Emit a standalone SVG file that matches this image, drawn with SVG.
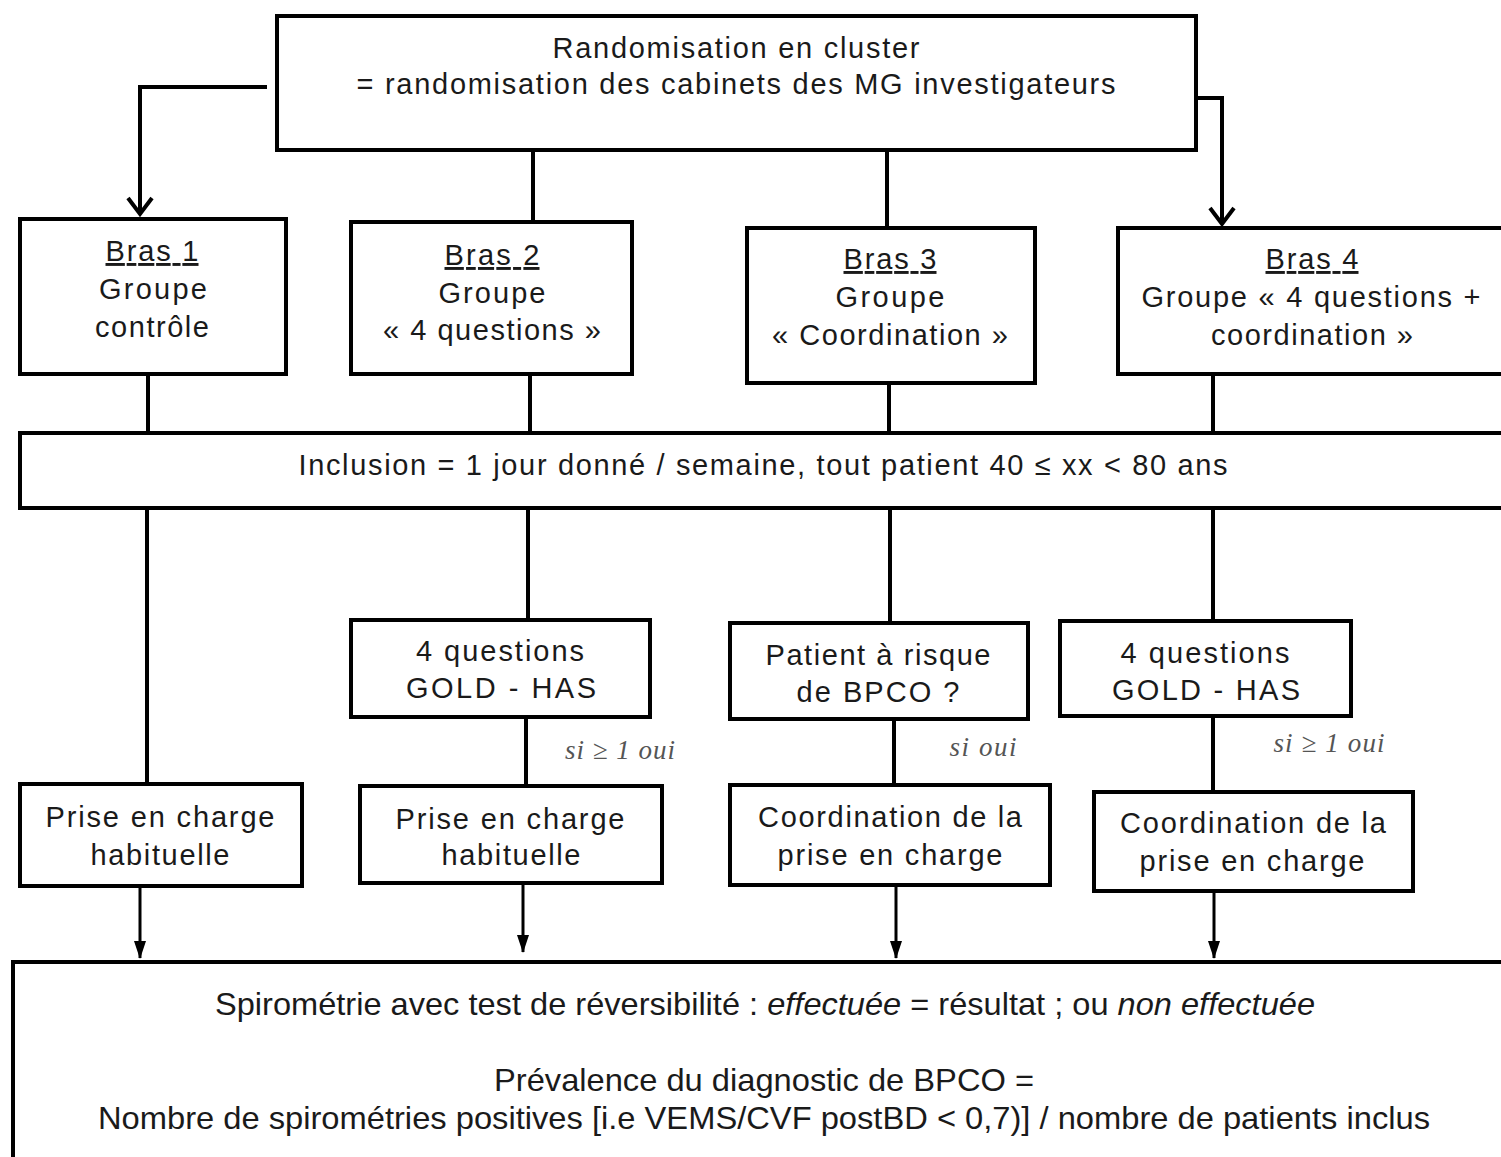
<svg xmlns="http://www.w3.org/2000/svg" width="1501" height="1157" viewBox="0 0 1501 1157">
<style>
.box{fill:#fff;stroke:#000;stroke-width:4}
.t{font-family:"Liberation Sans",Arial,sans-serif;font-size:29px;fill:#1a1a1a;text-anchor:middle}
.b{font-size:32px}
.u{text-decoration:underline}
.c{fill:none;stroke:#000;stroke-width:4}
.c3{fill:none;stroke:#000;stroke-width:3}
.chev{fill:none;stroke:#000;stroke-width:4;stroke-linejoin:miter}
.lab{font-family:"Liberation Serif","Times New Roman",serif;font-style:italic;font-size:27px;fill:#555;text-anchor:middle}
.i{font-style:italic}
</style>
<defs>
<marker id="tri" markerWidth="12" markerHeight="18" refX="6" refY="17" markerUnits="userSpaceOnUse" viewBox="0 0 12 18">
<path d="M0,0 L12,0 L6,18 Z" fill="#000"/>
</marker>
</defs>
<rect width="1501" height="1157" fill="#fff"/>
<g id="connectors">
<path class="c" d="M267,87 H140 V214"/>
<path class="chev" d="M128,198 L140,214 L152,198"/>
<path class="c" d="M1196,98 H1222 V224"/>
<path class="chev" d="M1210,208 L1222,224 L1234,208"/>
<path class="c" d="M533,150 V222"/>
<path class="c" d="M887,150 V228"/>
<path class="c" d="M148,374 V433"/>
<path class="c" d="M530,374 V433"/>
<path class="c" d="M889,383 V433"/>
<path class="c" d="M1213,374 V433"/>
<path class="c" d="M147,508 V784"/>
<path class="c" d="M528,508 V620"/>
<path class="c" d="M890,508 V623"/>
<path class="c" d="M1213,508 V621"/>
<path class="c" d="M526,717 V786"/>
<path class="c" d="M894,719 V785"/>
<path class="c" d="M1213,716 V792"/>
<path class="c3" d="M140,886 V958" marker-end="url(#tri)"/>
<path class="c3" d="M523,883 V952" marker-end="url(#tri)"/>
<path class="c3" d="M896,885 V958" marker-end="url(#tri)"/>
<path class="c3" d="M1214,891 V958" marker-end="url(#tri)"/>
<text class="lab" x="620" y="759" textLength="110">si ≥ 1 oui</text>
<text class="lab" x="983" y="756" textLength="67">si oui</text>
<text class="lab" x="1329" y="752" textLength="111">si ≥ 1 oui</text>
</g>
<g id="randomisation">
<rect class="box" x="277" y="16" width="919" height="134"/>
<text class="t" x="736" y="58" textLength="367">Randomisation en cluster</text>
<text class="t" x="736" y="94" textLength="759">= randomisation des cabinets des MG investigateurs</text>
</g>
<g id="bras1">
<rect class="box" x="20" y="219" width="266" height="155"/>
<text class="t u" x="152" y="261" textLength="93">Bras 1</text>
<text class="t" x="153" y="299" textLength="108">Groupe</text>
<text class="t" x="152" y="337" textLength="114">contrôle</text>
</g>
<g id="bras2">
<rect class="box" x="351" y="222" width="281" height="152"/>
<text class="t u" x="492" y="265" textLength="95">Bras 2</text>
<text class="t" x="492" y="303" textLength="107">Groupe</text>
<text class="t" x="492" y="340" textLength="218">« 4 questions »</text>
</g>
<g id="bras3">
<rect class="box" x="747" y="228" width="288" height="155"/>
<text class="t u" x="890" y="269" textLength="93">Bras 3</text>
<text class="t" x="890" y="307" textLength="109">Groupe</text>
<text class="t" x="890" y="345" textLength="236">« Coordination »</text>
</g>
<g id="bras4">
<rect class="box" x="1118" y="228" width="390" height="146"/>
<text class="t u" x="1312" y="269" textLength="93">Bras 4</text>
<text class="t" x="1311" y="307" textLength="339">Groupe « 4 questions +</text>
<text class="t" x="1312" y="345" textLength="202">coordination »</text>
</g>
<g id="inclusion">
<rect class="box" x="20" y="433" width="1490" height="75"/>
<text class="t" x="763" y="475" textLength="929">Inclusion = 1 jour donné / semaine, tout patient 40 ≤ xx &lt; 80 ans</text>
</g>
<g id="questions2">
<rect class="box" x="351" y="620" width="299" height="97"/>
<text class="t" x="500" y="661" textLength="168">4 questions</text>
<text class="t" x="501" y="698" textLength="190">GOLD - HAS</text>
</g>
<g id="risque3">
<rect class="box" x="730" y="623" width="298" height="96"/>
<text class="t" x="878" y="665" textLength="225">Patient à risque</text>
<text class="t" x="878" y="702" textLength="163">de BPCO ?</text>
</g>
<g id="questions4">
<rect class="box" x="1060" y="621" width="291" height="95"/>
<text class="t" x="1205" y="663" textLength="169">4 questions</text>
<text class="t" x="1206" y="700" textLength="188">GOLD - HAS</text>
</g>
<g id="prise1">
<rect class="box" x="20" y="784" width="282" height="102"/>
<text class="t" x="160" y="827" textLength="229">Prise en charge</text>
<text class="t" x="160" y="865" textLength="139">habituelle</text>
</g>
<g id="prise2">
<rect class="box" x="360" y="786" width="302" height="97"/>
<text class="t" x="510" y="829" textLength="229">Prise en charge</text>
<text class="t" x="511" y="865" textLength="139">habituelle</text>
</g>
<g id="coord3">
<rect class="box" x="730" y="785" width="320" height="100"/>
<text class="t" x="890" y="827" textLength="264">Coordination de la</text>
<text class="t" x="890" y="865" textLength="225">prise en charge</text>
</g>
<g id="coord4">
<rect class="box" x="1094" y="792" width="319" height="99"/>
<text class="t" x="1253" y="833" textLength="266">Coordination de la</text>
<text class="t" x="1252" y="871" textLength="225">prise en charge</text>
</g>
<g id="spirometrie">
<rect class="box" x="13" y="962" width="1500" height="210"/>
<text class="t b" x="765" y="1015" textLength="1100" lengthAdjust="spacingAndGlyphs">Spirométrie avec test de réversibilité : <tspan class="i">effectuée</tspan> = résultat ; ou <tspan class="i">non effectuée</tspan></text>
<text class="t b" x="764" y="1091" textLength="540" lengthAdjust="spacingAndGlyphs">Prévalence du diagnostic de BPCO =</text>
<text class="t b" x="764" y="1129" textLength="1332" lengthAdjust="spacingAndGlyphs">Nombre de spirométries positives [i.e VEMS/CVF postBD &lt; 0,7)] / nombre de patients inclus</text>
</g>
</svg>
